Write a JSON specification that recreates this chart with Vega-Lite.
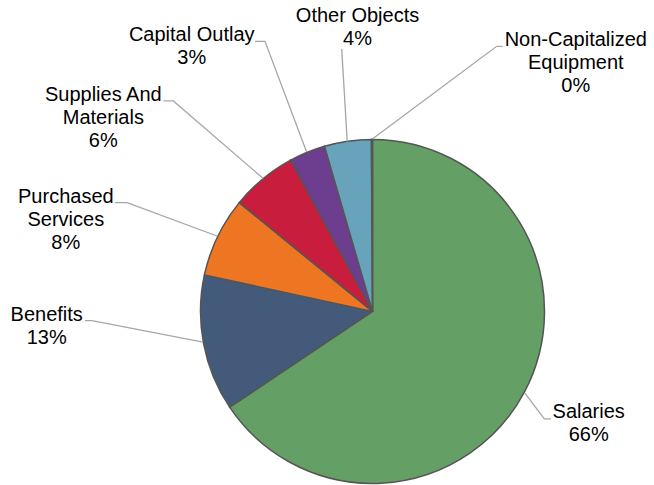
{
  "$schema": "https://vega.github.io/schema/vega-lite/v6.json",
  "width": 654,
  "height": 485,
  "padding": 0,
  "autosize": {"type": "fit", "contains": "padding"},
  "background": "#ffffff",
  "config": {"view": {"stroke": null}},
  "datasets": {
    "slices": [
      {"category": "Salaries", "value": 65.6, "idx": 1},
      {"category": "Benefits", "value": 12.8, "idx": 2},
      {"category": "Purchased Services", "value": 7.5, "idx": 3},
      {"category": "Supplies And Materials", "value": 6.2, "idx": 4},
      {"category": "Capital Outlay", "value": 3.4, "idx": 5},
      {"category": "Other Objects", "value": 4.4, "idx": 6},
      {"category": "Non-Capitalized Equipment", "value": 0.1, "idx": 7}
    ],
    "labels": [
      {"category": "Salaries", "text": "Salaries\n66%", "x": 1.257, "y": -0.626},
      {"category": "Benefits", "text": "Benefits\n13%", "x": -1.894, "y": -0.054},
      {"category": "Purchased Services", "text": "Purchased\nServices\n8%", "x": -1.783, "y": 0.634},
      {"category": "Supplies And Materials", "text": "Supplies And\nMaterials\n6%", "x": -1.565, "y": 1.234},
      {"category": "Capital Outlay", "text": "Capital Outlay\n3%", "x": -1.051, "y": 1.584},
      {"category": "Other Objects", "text": "Other Objects\n4%", "x": -0.087, "y": 1.699},
      {"category": "Non-Capitalized Equipment", "text": "Non-Capitalized\nEquipment\n0%", "x": 1.182, "y": 1.554}
    ],
    "leaders": [
      {"category": "Salaries", "pt": 1, "x": 0.887, "y": -0.481},
      {"category": "Salaries", "pt": 2, "x": 0.999, "y": -0.630},
      {"category": "Salaries", "pt": 3, "x": 1.038, "y": -0.630},
      {"category": "Benefits", "pt": 1, "x": -1.672, "y": -0.054},
      {"category": "Benefits", "pt": 2, "x": -1.631, "y": -0.054},
      {"category": "Benefits", "pt": 3, "x": -0.985, "y": -0.180},
      {"category": "Purchased Services", "pt": 1, "x": -1.497, "y": 0.638},
      {"category": "Purchased Services", "pt": 2, "x": -1.427, "y": 0.638},
      {"category": "Purchased Services", "pt": 3, "x": -0.904, "y": 0.442},
      {"category": "Supplies And Materials", "pt": 1, "x": -1.216, "y": 1.234},
      {"category": "Supplies And Materials", "pt": 2, "x": -1.158, "y": 1.234},
      {"category": "Supplies And Materials", "pt": 3, "x": -0.635, "y": 0.779},
      {"category": "Capital Outlay", "pt": 1, "x": -0.683, "y": 1.583},
      {"category": "Capital Outlay", "pt": 2, "x": -0.625, "y": 1.583},
      {"category": "Capital Outlay", "pt": 3, "x": -0.383, "y": 0.934},
      {"category": "Other Objects", "pt": 1, "x": -0.179, "y": 1.539},
      {"category": "Other Objects", "pt": 2, "x": -0.147, "y": 0.996},
      {"category": "Non-Capitalized Equipment", "pt": 1, "x": 0.757, "y": 1.554},
      {"category": "Non-Capitalized Equipment", "pt": 2, "x": 0.722, "y": 1.554},
      {"category": "Non-Capitalized Equipment", "pt": 3, "x": 0.001, "y": 1.012}
    ]
  },
  "layer": [
    {
      "data": {"name": "slices"},
      "mark": {"type": "arc", "outerRadius": 172, "stroke": "#555555", "strokeWidth": 1.5},
      "encoding": {
        "x": {"datum": 0, "type": "quantitative", "scale": {"domain": [-2.1657, 1.6366], "nice": false, "zero": false}, "axis": null},
        "y": {"datum": 0, "type": "quantitative", "scale": {"domain": [-0.9942, 1.8256], "nice": false, "zero": false}, "axis": null},
        "theta": {"field": "value", "type": "quantitative", "stack": true},
        "order": {"field": "idx", "type": "quantitative"},
        "color": {
          "field": "category",
          "type": "nominal",
          "legend": null,
          "scale": {
            "domain": ["Salaries", "Benefits", "Purchased Services", "Supplies And Materials", "Capital Outlay", "Other Objects", "Non-Capitalized Equipment"],
            "range": ["#64A065", "#445A7A", "#EE7623", "#C81D3C", "#6D3D8F", "#68A3BC", "#8FB35A"]
          }
        }
      }
    },
    {
      "data": {"name": "leaders"},
      "mark": {"type": "line", "color": "#A6A6A6", "strokeWidth": 1.3},
      "encoding": {
        "x": {"field": "x", "type": "quantitative", "axis": null},
        "y": {"field": "y", "type": "quantitative", "axis": null},
        "detail": {"field": "category"},
        "order": {"field": "pt", "type": "quantitative"}
      }
    },
    {
      "data": {"name": "labels"},
      "mark": {"type": "text", "font": "Liberation Sans", "fontSize": 20, "lineHeight": 23, "lineBreak": "\n", "align": "center", "baseline": "alphabetic", "color": "#000000"},
      "encoding": {
        "x": {"field": "x", "type": "quantitative", "axis": null},
        "y": {"field": "y", "type": "quantitative", "axis": null},
        "text": {"field": "text"}
      }
    }
  ]
}
